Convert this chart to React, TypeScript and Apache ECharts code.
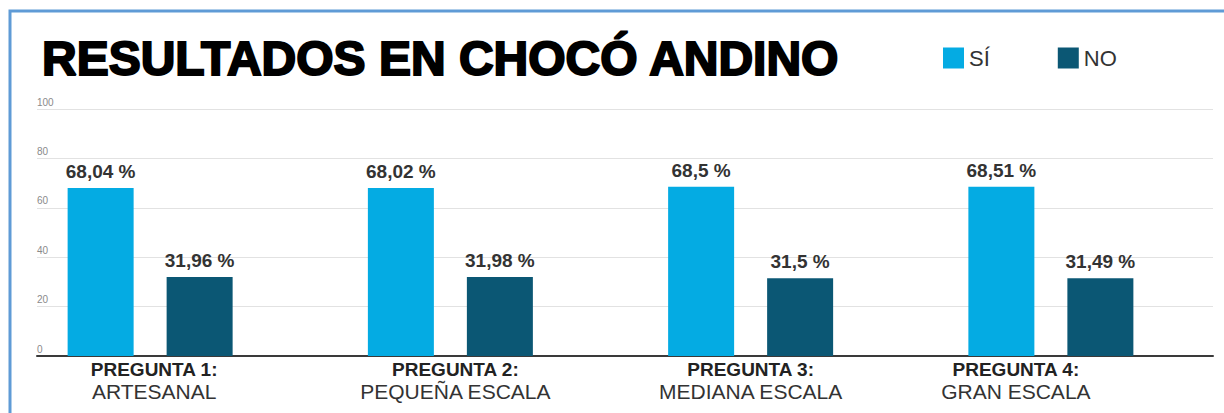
import React, { useEffect, useRef } from "react";
import * as echarts from "echarts";

const TITLE = "RESULTADOS EN CHOCÓ ANDINO";
const QUESTIONS = ["PREGUNTA 1:", "PREGUNTA 2:", "PREGUNTA 3:", "PREGUNTA 4:"];
const SCALES = ["ARTESANAL", "PEQUEÑA ESCALA", "MEDIANA ESCALA", "GRAN ESCALA"];
const SERIES_NAMES = ["SÍ", "NO"];
const SI_VALUES = [68.04, 68.02, 68.5, 68.51];
const NO_VALUES = [31.96, 31.98, 31.5, 31.49];
const Y_MIN = 0;
const Y_MAX = 100;
const Y_STEP = 20;

// styling only: horizontal nudge of each category label (px)
const LABEL_NUDGE = [4, 5, 0, -35];

const FONT = "'Liberation Sans', Arial, sans-serif";
const COLORS = ["#04abe3", "#0b5774"];

const fmt = (v: number) => String(v).replace(".", ",") + " %";

export default function App() {
  const ref = useRef<HTMLDivElement>(null);
  useEffect(() => {
    if (!ref.current) return;
    const chart = echarts.init(ref.current, null, { renderer: "svg" });
    const catData = QUESTIONS.map((q, i) => {
      const n = LABEL_NUDGE[i];
      return {
        value: q + "\n" + SCALES[i],
        textStyle: {
          padding: n >= 0 ? [0, 0, 0, 2 * n] : [0, -2 * n, 0, 0],
        },
      };
    });
    const gridTop = 109;
    const gridBottom = 57;
    chart.setOption({
      animation: false,
      backgroundColor: "#ffffff",
      textStyle: { fontFamily: FONT },
      title: {
        text: TITLE,
        left: 37,
        top: 29,
        textStyle: {
          fontFamily: FONT,
          fontSize: 48,
          fontWeight: "bold",
          color: "#000",
          textBorderColor: "#000",
          textBorderWidth: 2,
        },
      },
      legend: {
        left: 938,
        top: 42,
        itemWidth: 21,
        itemHeight: 21,
        itemGap: 68,
        icon: "rect",
        data: SERIES_NAMES,
        textStyle: { fontFamily: FONT, fontSize: 22, color: "#333" },
      },
      grid: [
        { left: -3, right: 23, top: gridTop, bottom: gridBottom },
        { left: 37, right: 11, top: gridTop, bottom: gridBottom },
      ],
      xAxis: [
        {
          type: "category",
          gridIndex: 0,
          data: catData,
          axisLine: { show: false },
          axisTick: { show: false },
          axisLabel: {
            margin: 4,
            interval: 0,
            formatter: (v: string) => {
              const [a, b] = v.split("\n");
              return "{q|" + a + "}\n{s|" + b + "}";
            },
            rich: {
              q: {
                fontFamily: FONT,
                fontSize: 19,
                fontWeight: "bold",
                color: "#222",
                lineHeight: 19,
              },
              s: {
                fontFamily: FONT,
                fontSize: 21,
                color: "#333",
                lineHeight: 24,
              },
            },
          },
        },
        {
          type: "category",
          gridIndex: 1,
          data: QUESTIONS,
          axisLine: { show: true, lineStyle: { color: "#3a3a3a", width: 2 } },
          axisTick: { show: false },
          axisLabel: { show: false },
        },
      ],
      yAxis: [
        {
          type: "value",
          gridIndex: 0,
          min: Y_MIN,
          max: Y_MAX,
          interval: Y_STEP,
          show: false,
        },
        {
          type: "value",
          gridIndex: 1,
          min: Y_MIN,
          max: Y_MAX,
          interval: Y_STEP,
          axisLine: { show: false },
          axisTick: { show: false },
          splitLine: { lineStyle: { color: "#e2e2e2", width: 1 } },
          axisLabel: {
            inside: true,
            margin: 0,
            align: "left",
            verticalAlign: "bottom",
            padding: [0, 0, 2, 0],
            fontFamily: FONT,
            fontSize: 10,
            color: "#8a8a8a",
          },
        },
      ],
      series: [SI_VALUES, NO_VALUES].map((vals, i) => ({
        name: SERIES_NAMES[i],
        type: "bar",
        xAxisIndex: 0,
        yAxisIndex: 0,
        data: vals,
        barWidth: 66,
        barGap: "50%",
        itemStyle: { color: COLORS[i] },
        label: {
          show: true,
          position: "top",
          distance: 7,
          formatter: (p: any) => fmt(p.value),
          fontFamily: FONT,
          fontSize: 19,
          fontWeight: "bold",
          color: "#333",
        },
      })),
      graphic: [
        {
          type: "rect",
          silent: true,
          z: 100,
          shape: { x: 10, y: 11, width: 1260, height: 460 },
          style: { fill: "none", stroke: "#5f9bd6", lineWidth: 3 },
        },
      ],
    });
    return () => chart.dispose();
  }, []);
  return (
    <div
      ref={ref}
      style={{ position: "absolute", left: 0, top: 0, width: 1224, height: 413 }}
    />
  );
}
